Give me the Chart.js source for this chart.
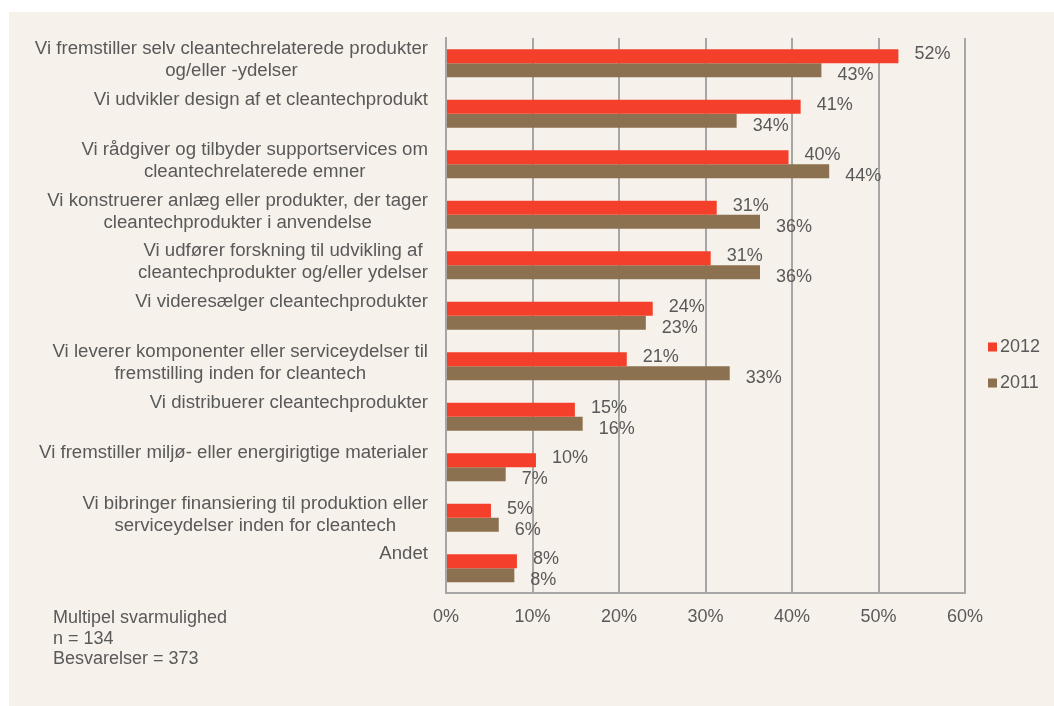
<!DOCTYPE html>
<html>
<head>
<meta charset="utf-8">
<script src="https://cdn.jsdelivr.net/npm/chart.js@4.4.0/dist/chart.umd.min.js"></script>
<style>
body { margin: 0; background: #fff; }
#box { position: absolute; left: 9px; top: 12px; width: 1045px; height: 694px; background: #f6f1eb; }
#notes { position: absolute; left: 44px; top: 595px; font: 18px "Liberation Sans", Arial, sans-serif; color: #595959; line-height: 20.5px; }
</style>
</head>
<body>
<div id="box">
  <canvas id="myChart" width="1045" height="694"></canvas>
  <div id="notes">Multipel svarmulighed<br>n = 134<br>Besvarelser = 373</div>
</div>
<script>
var categories = [
    "Vi fremstiller selv cleantechrelaterede produkter\nog/eller -ydelser",
    "Vi udvikler design af et cleantechprodukt",
    "Vi rådgiver og tilbyder supportservices om\ncleantechrelaterede emner",
    "Vi konstruerer anlæg eller produkter, der tager\ncleantechprodukter i anvendelse",
    "Vi udfører forskning til udvikling af\ncleantechprodukter og/eller ydelser",
    "Vi videresælger cleantechprodukter",
    "Vi leverer komponenter eller serviceydelser til\nfremstilling inden for cleantech",
    "Vi distribuerer cleantechprodukter",
    "Vi fremstiller miljø- eller energirigtige materialer",
    "Vi bibringer finansiering til produktion eller\nserviceydelser inden for cleantech",
    "Andet"
];
var values2012 = [52.3, 41.0, 39.6, 31.3, 30.6, 23.9, 20.9, 14.9, 10.4, 5.2, 8.2];
var values2011 = [43.4, 33.6, 44.3, 36.3, 36.3, 23.1, 32.8, 15.8, 6.9, 6.1, 7.9];
var xTicks = [0, 10, 20, 30, 40, 50, 60];

var FONT = '"Liberation Sans", Arial, sans-serif';
var TEXT = '#595959';

// draws the category labels, data labels and the legend the way the original does
var labelPlugin = {
    id: 'labels',
    afterDraw: function(chart) {
        var ctx = chart.ctx;
        var yScale = chart.scales.y;
        ctx.save();
        ctx.font = '18px ' + FONT;
        ctx.fillStyle = TEXT;
        ctx.textBaseline = 'middle';

        // category labels, lines centred on each other, block right aligned
        // (the original text is a little wider, so stretch it a bit)
        var sx = 1.035;
        ctx.textAlign = 'center';
        chart.data.labels.forEach(function(label, i) {
            var lines = label.split('\n');
            var widest = 0;
            lines.forEach(function(l) { widest = Math.max(widest, ctx.measureText(l).width * sx); });
            var cx = 419 - widest / 2;
            var y0 = yScale.getPixelForValue(i) - 14;
            lines.forEach(function(l, k) {
                ctx.save();
                ctx.translate(cx, y0 + k * 22);
                ctx.scale(sx, 1);
                ctx.fillText(l, 0, 0);
                ctx.restore();
            });
        });

        // value labels
        ctx.textAlign = 'left';
        chart.data.datasets.forEach(function(ds, d) {
            var meta = chart.getDatasetMeta(d);
            meta.data.forEach(function(bar, i) {
                var dy = d === 0 ? -2 : 5;
                ctx.fillText(Math.round(ds.data[i]) + '%', bar.x + 16, bar.y + dy);
            });
        });

        // legend
        chart.data.datasets.forEach(function(ds, d) {
            var ly = 335 + d * 36;
            ctx.fillStyle = ds.backgroundColor;
            ctx.fillRect(979, ly - 4.5, 9, 9);
            ctx.fillStyle = TEXT;
            ctx.fillText(ds.label, 991, ly);
        });
        ctx.restore();
    }
};

window.onload = function() {
    var ctx = document.getElementById('myChart').getContext('2d');
    var myChart = new Chart(ctx, {
        type: 'bar',
        data: {
            labels: categories,
            datasets: [{
                label: '2012',
                data: values2012,
                backgroundColor: '#f4402a',
                barPercentage: 1,
                categoryPercentage: 0.555
            }, {
                label: '2011',
                data: values2011,
                backgroundColor: '#8b714f',
                barPercentage: 1,
                categoryPercentage: 0.555
            }]
        },
        plugins: [labelPlugin],
        options: {
            indexAxis: 'y',
            responsive: false,
            animation: false,
            layout: {
                padding: { left: 437, right: 89, top: 26, bottom: 65 }
            },
            plugins: {
                legend: { display: false },
                tooltip: { enabled: false }
            },
            scales: {
                x: {
                    min: xTicks[0],
                    max: xTicks[xTicks.length - 1],
                    afterBuildTicks: function(axis) {
                        axis.ticks = xTicks.map(function(v) { return { value: v }; });
                    },
                    ticks: {
                        padding: 13,
                        color: TEXT,
                        font: { family: FONT, size: 18 },
                        callback: function(v) { return v + '%'; }
                    },
                    grid: { color: '#a6a6a6', lineWidth: 2, drawTicks: false },
                    border: { color: '#a6a6a6', width: 2 }
                },
                y: {
                    ticks: { display: false },
                    grid: { display: false, drawTicks: false },
                    border: { color: '#a6a6a6', width: 2 }
                }
            }
        }
    });
};
</script>
</body>
</html>
